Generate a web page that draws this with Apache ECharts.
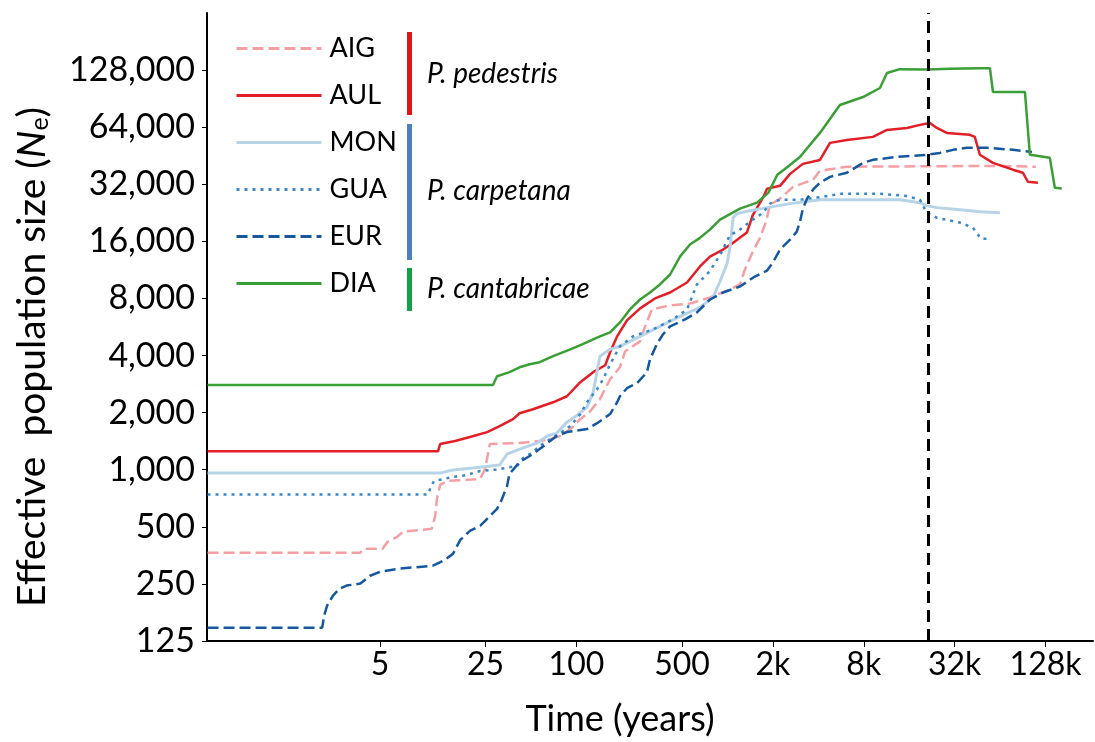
<!DOCTYPE html>
<html>
<head>
<meta charset="utf-8">
<script src="https://cdn.jsdelivr.net/npm/echarts@6/dist/echarts.min.js"></script>
<style>
  html, body { margin: 0; padding: 0; background: #fff; }
  #chart { width: 1095px; height: 742px; }
</style>
</head>
<body>
<div id="chart"></div>
<script>
// time in years, Ne
var aigT = [0.36, 3.7, 3.9, 5.2, 5.6, 6.5, 7.1, 11, 11.6, 11.9, 12.5, 13.9, 23, 24.8, 26.7, 42, 64, 78, 91, 106, 123, 143, 167, 194, 210, 264, 285, 316, 417, 565, 766, 1040, 1211, 1306, 1475, 1643, 1800, 1914, 2229, 2720, 3690, 4100, 6190, 63800, 110400]
var aigN = [365, 365, 383, 383, 417, 443, 471, 488, 571, 701, 832, 872, 894, 1009, 1366, 1383, 1434, 1506, 1638, 1848, 2030, 2355, 3000, 3470, 4210, 4750, 5700, 7005, 7350, 7530, 8100, 8924, 9480, 11373, 14130, 16700, 20300, 25000, 26850, 31000, 33800, 37700, 39600, 40000, 39600]

var aulT = [0.36, 12.1, 12.5, 15.7, 19.7, 25.6, 31, 38, 42, 51.5, 70, 86.5, 106, 129, 155, 167, 186, 216, 264, 331, 417, 540, 658, 766, 935, 1120, 1345, 1475, 1720, 1830, 2230, 2600, 3160, 4100, 4780, 6190, 9200, 11400, 15450, 18840, 21900, 24400, 28400, 40400, 43500, 47000, 57400, 77800, 90600, 97800, 114000]
var aulN = [1250, 1250, 1366, 1416, 1487, 1579, 1698, 1848, 1985, 2084, 2268, 2440, 2894, 3270, 3555, 4160, 5050, 6130, 7090, 8000, 8600, 9710, 11800, 13300, 14490, 15950, 17800, 22100, 27200, 30300, 31400, 36300, 41000, 43000, 52900, 54800, 56900, 61900, 63400, 65800, 67400, 63400, 59700, 58300, 56900, 45800, 41500, 38200, 36800, 33000, 32600]

var monT = [0.36, 12.5, 15.2, 20.6, 31, 34.7, 42, 55, 64, 74, 86.5, 101, 117.5, 129, 137, 143, 167, 194, 264, 357, 485, 658, 802, 893, 993, 1040, 1090, 1157, 1410, 1830, 2600, 4100, 13880, 18840, 20900, 24400, 34670, 47000, 63800]
var monN = [960, 960, 997, 1022, 1059, 1210, 1285, 1383, 1506, 1560, 1782, 1940, 2138, 2564, 3306, 3965, 4314, 4475, 5050, 5700, 6435, 7175, 8100, 9830, 12200, 14800, 21300, 22400, 23200, 24100, 25300, 26530, 26530, 25600, 24700, 24100, 23500, 22950, 22650]

var guaT = [0.36, 10.4, 10.9, 11.4, 15.2, 18.8, 23, 28.9, 40.4, 43.6, 51.5, 57, 67, 78, 91, 106, 117.5, 137, 150, 167, 194, 237, 321, 436, 540, 628, 766, 893, 1040, 1211, 1410, 1720, 1914, 2229, 3023, 4300, 5563, 10240, 15000, 18840, 20900, 24400, 34670, 42300, 45600, 47800, 53100]
var guaN = [740, 740, 821, 872, 916, 938, 985, 1000, 1046, 1139, 1240, 1333, 1451, 1560, 1698, 1965, 2270, 2659, 3000, 3600, 4475, 5050, 5499, 6205, 7005, 9480, 11160, 13540, 17260, 18456, 20300, 22650, 25280, 26530, 26530, 27500, 28500, 28500, 27850, 26530, 22650, 21300, 20100, 18900, 17370, 16540, 16540]

var eurT = [0.36, 2.07, 2.13, 2.23, 2.44, 2.7, 3.0, 3.7, 4.3, 5, 6.8, 11.2, 13.1, 15.2, 17, 19.7, 23, 25.6, 29.8, 32.1, 34.7, 36, 42, 49, 57, 74, 86.5, 117.5, 137, 167, 186, 194, 216, 252, 293, 307, 341, 374, 417, 524, 628, 766, 935, 1211, 1520, 1830, 2000, 2229, 2600, 2880, 3023, 3160, 3365, 3690, 4100, 4776, 6190, 7900, 9200, 13270, 20950, 25550, 31200, 38600, 52400, 77800, 104000]
var eurN = [147, 147, 170, 192, 217, 236, 245, 251, 276, 290, 301, 312, 331, 360, 427, 476, 506, 551, 622, 701, 821, 950, 1098, 1181, 1285, 1506, 1580, 1638, 1760, 1965, 2270, 2440, 2690, 2860, 3265, 3822, 4590, 5170, 5700, 6205, 6750, 7900, 8600, 9250, 10440, 11230, 12370, 14490, 16350, 18000, 20300, 23790, 26850, 29950, 32600, 35000, 36800, 41500, 43060, 44600, 45750, 46840, 48600, 49800, 49800, 48600, 47400]

var diaT = [0.36, 28, 29.8, 36, 42, 49, 57, 70, 91, 110, 129, 143, 167, 194, 226, 264, 307, 357, 417, 485, 565, 658, 766, 893, 1211, 1570, 1870, 2140, 2500, 3020, 4100, 5560, 7910, 10240, 11400, 13880, 21000, 29770, 47000, 54800, 57400, 93500, 100800, 136700, 147500, 164000]
var diaN = [2800, 2800, 3110, 3270, 3470, 3600, 3690, 3970, 4310, 4590, 4870, 5050, 5300, 5980, 7000, 7900, 8600, 9480, 10700, 13300, 15400, 16700, 18450, 20830, 23800, 25600, 28900, 35900, 39500, 44600, 59700, 83800, 92300, 103000, 123500, 129500, 129000, 130000, 131000, 131000, 98100, 98100, 45800, 44100, 30700, 30400]

var timeTicks = [5, 25, 100, 500, 2000, 8000, 32000, 128000]
var neTicks = [125, 250, 500, 1000, 2000, 4000, 8000, 16000, 32000, 64000, 128000]
var lgm = 21500

var NE0 = 125
function pts (t, n) {
  return t.map(function (v, i) { return [Math.log10(v), Math.log2(n[i] / NE0)] })
}
function ser (name, t, n, color, type, width) {
  return {
    name: name,
    type: 'line',
    symbol: 'none',
    data: pts(t, n),
    lineStyle: { color: color, width: width, type: type },
    itemStyle: { color: color }
  }
}

var series = [
  ser('AIG', aigT, aigN, '#f59fa4', [11, 5], 2.5),
  ser('AUL', aulT, aulN, '#e41e26', 'solid', 2.5),
  ser('MON', monT, monN, '#b7d3e8', 'solid', 3),
  ser('GUA', guaT, guaN, '#3a88c5', [3, 5], 2.5),
  ser('EUR', eurT, eurN, '#15589f', [11, 5], 2.5),
  ser('DIA', diaT, diaN, '#3a9f35', 'solid', 2.5)
]
series[5].markLine = {
  silent: true,
  symbol: 'none',
  label: { show: false },
  lineStyle: { color: '#000', type: [12, 7], width: 3 },
  data: [{ xAxis: Math.log10(lgm) }]
}

var fontUI = 'Lato, "Open Sans", sans-serif'

var option = {
  animation: false,
  backgroundColor: '#fff',
  grid: { left: 207, right: 2, top: 13, bottom: 100 },
  legend: {
    orient: 'vertical',
    left: 230,
    top: 30,
    itemWidth: 85,
    itemHeight: 14,
    itemGap: 20,
    selectedMode: false,
    itemStyle: { opacity: 0 },
    lineStyle: { width: 3 },
    textStyle: { fontFamily: fontUI, fontSize: 27, color: '#000', padding: [0, 0, 0, 3] },
    data: ['AIG', 'AUL', 'MON', 'GUA', 'EUR', 'DIA']
  },
  xAxis: {
    type: 'value',
    min: Math.log10(0.357),
    max: Math.log10(264000),
    name: 'Time (years)',
    nameLocation: 'middle',
    nameGap: 60,
    nameTextStyle: { fontFamily: fontUI, fontSize: 36, color: '#000', padding: [0, 60, 0, 0] },
    splitLine: { show: false },
    axisLine: { onZero: false, lineStyle: { color: '#000', width: 2 } },
    axisTick: { length: 6, lineStyle: { color: '#000' }, customValues: timeTicks.map(function (v) { return Math.log10(v) }) },
    axisLabel: {
      margin: 8,
      fontFamily: fontUI,
      fontSize: 32,
      color: '#000',
      customValues: timeTicks.map(function (v) { return Math.log10(v) }),
      formatter: function (v) {
        var t = Math.round(Math.pow(10, v))
        return t >= 1000 ? Math.round(t / 1000) + 'k' : String(t)
      }
    }
  },
  yAxis: {
    type: 'value',
    min: 0,
    max: 11,
    name: '{a|Effective  population size (}{i|N}{s|e}{a|)}',
    nameLocation: 'middle',
    nameRotate: 90,
    nameGap: 155,
    nameTextStyle: {
      padding: [0, 60, 0, 0],
      rich: {
        a: { fontFamily: fontUI, fontSize: 39, color: '#000' },
        i: { fontFamily: fontUI, fontSize: 39, fontStyle: 'italic', color: '#000' },
        s: { fontFamily: fontUI, fontSize: 25, color: '#000', padding: [14, 0, 0, 0] }
      }
    },
    splitLine: { show: false },
    axisLine: { show: true, onZero: false, lineStyle: { color: '#000', width: 2 } },
    axisTick: { show: true, length: 5, lineStyle: { color: '#000' }, customValues: neTicks.map(function (v) { return Math.log2(v / NE0) }) },
    axisLabel: {
      margin: 12,
      fontFamily: fontUI,
      fontSize: 34,
      color: '#000',
      customValues: neTicks.map(function (v) { return Math.log2(v / NE0) }),
      formatter: function (v) {
        return Math.round(NE0 * Math.pow(2, v)).toLocaleString('en-US')
      }
    }
  },
  graphic: [
    { type: 'rect', shape: { x: 407, y: 32, width: 5, height: 83 }, style: { fill: '#e3131b' } },
    { type: 'rect', shape: { x: 407, y: 124, width: 5, height: 136 }, style: { fill: '#4f7fbf' } },
    { type: 'rect', shape: { x: 407, y: 268, width: 5, height: 43 }, style: { fill: '#14a049' } },
    { type: 'text', left: 427, top: 60, style: { text: 'P. pedestris', font: 'italic 28px ' + fontUI, fill: '#000' } },
    { type: 'text', left: 427, top: 177, style: { text: 'P. carpetana', font: 'italic 28px ' + fontUI, fill: '#000' } },
    { type: 'text', left: 427, top: 275, style: { text: 'P. cantabricae', font: 'italic 28px ' + fontUI, fill: '#000' } }
  ],
  series: series
}

var myChart = echarts.init(document.getElementById('chart'))
myChart.setOption(option)
</script>
</body>
</html>
